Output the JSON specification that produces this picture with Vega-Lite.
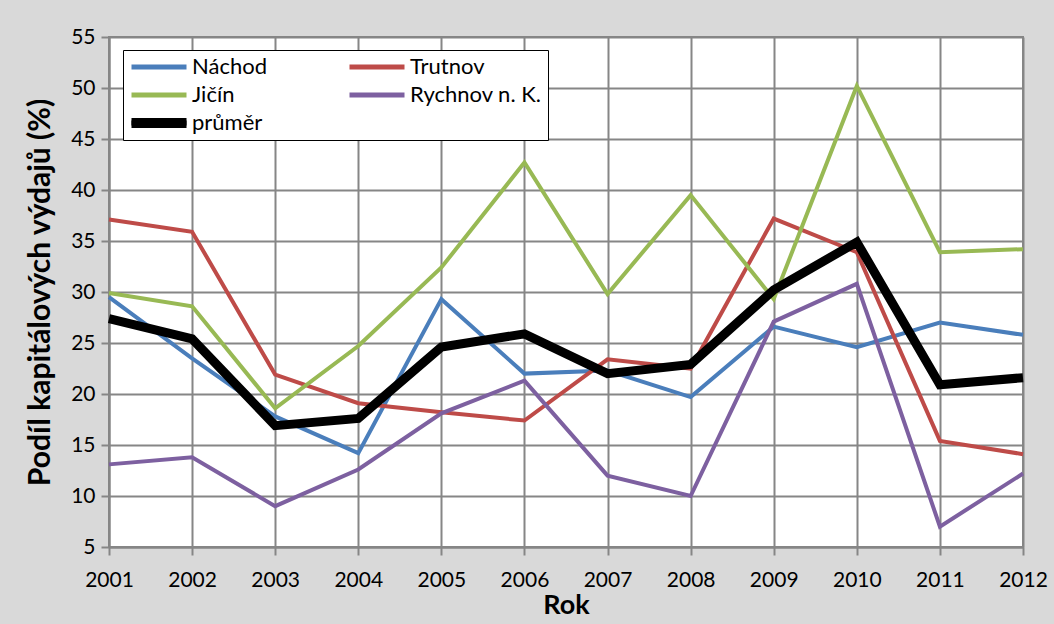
{
  "$schema": "https://vega.github.io/schema/vega-lite/v6.json",
  "width": 914,
  "height": 510,
  "autosize": "none",
  "padding": {"left": 109, "top": 37, "right": 31, "bottom": 77},
  "background": "#d9d9d9",
  "config": {
    "font": "Lato",
    "view": {"fill": "white", "stroke": "#868686", "strokeWidth": 2},
    "axis": {"gridColor": "#868686", "gridWidth": 2, "domainColor": "#868686", "domainWidth": 2, "tickColor": "#868686", "tickWidth": 2, "tickSize": 8, "labelFont": "Lato", "labelFontSize": 21, "labelColor": "black", "titleFont": "Lato", "titleFontSize": 27, "titleFontWeight": "bold", "titleColor": "black"}
  },
  "data": {
    "values": [
      {"rok": 2001, "s": "Náchod", "v": 29.5}, {"rok": 2002, "s": "Náchod", "v": 23.5}, {"rok": 2003, "s": "Náchod", "v": 17.8}, {"rok": 2004, "s": "Náchod", "v": 14.2}, {"rok": 2005, "s": "Náchod", "v": 29.3}, {"rok": 2006, "s": "Náchod", "v": 22.0}, {"rok": 2007, "s": "Náchod", "v": 22.3}, {"rok": 2008, "s": "Náchod", "v": 19.7}, {"rok": 2009, "s": "Náchod", "v": 26.6}, {"rok": 2010, "s": "Náchod", "v": 24.6}, {"rok": 2011, "s": "Náchod", "v": 27.0}, {"rok": 2012, "s": "Náchod", "v": 25.8},
      {"rok": 2001, "s": "Trutnov", "v": 37.1}, {"rok": 2002, "s": "Trutnov", "v": 35.9}, {"rok": 2003, "s": "Trutnov", "v": 21.9}, {"rok": 2004, "s": "Trutnov", "v": 19.1}, {"rok": 2005, "s": "Trutnov", "v": 18.2}, {"rok": 2006, "s": "Trutnov", "v": 17.4}, {"rok": 2007, "s": "Trutnov", "v": 23.4}, {"rok": 2008, "s": "Trutnov", "v": 22.5}, {"rok": 2009, "s": "Trutnov", "v": 37.2}, {"rok": 2010, "s": "Trutnov", "v": 33.9}, {"rok": 2011, "s": "Trutnov", "v": 15.4}, {"rok": 2012, "s": "Trutnov", "v": 14.1},
      {"rok": 2001, "s": "Jičín", "v": 29.9}, {"rok": 2002, "s": "Jičín", "v": 28.6}, {"rok": 2003, "s": "Jičín", "v": 18.6}, {"rok": 2004, "s": "Jičín", "v": 24.7}, {"rok": 2005, "s": "Jičín", "v": 32.4}, {"rok": 2006, "s": "Jičín", "v": 42.7}, {"rok": 2007, "s": "Jičín", "v": 29.8}, {"rok": 2008, "s": "Jičín", "v": 39.5}, {"rok": 2009, "s": "Jičín", "v": 29.3}, {"rok": 2010, "s": "Jičín", "v": 50.2}, {"rok": 2011, "s": "Jičín", "v": 33.9}, {"rok": 2012, "s": "Jičín", "v": 34.2},
      {"rok": 2001, "s": "Rychnov n. K.", "v": 13.1}, {"rok": 2002, "s": "Rychnov n. K.", "v": 13.8}, {"rok": 2003, "s": "Rychnov n. K.", "v": 9.0}, {"rok": 2004, "s": "Rychnov n. K.", "v": 12.6}, {"rok": 2005, "s": "Rychnov n. K.", "v": 18.1}, {"rok": 2006, "s": "Rychnov n. K.", "v": 21.3}, {"rok": 2007, "s": "Rychnov n. K.", "v": 12.0}, {"rok": 2008, "s": "Rychnov n. K.", "v": 10.0}, {"rok": 2009, "s": "Rychnov n. K.", "v": 27.1}, {"rok": 2010, "s": "Rychnov n. K.", "v": 30.8}, {"rok": 2011, "s": "Rychnov n. K.", "v": 7.0}, {"rok": 2012, "s": "Rychnov n. K.", "v": 12.2},
      {"rok": 2001, "s": "průměr", "v": 27.4}, {"rok": 2002, "s": "průměr", "v": 25.4}, {"rok": 2003, "s": "průměr", "v": 16.9}, {"rok": 2004, "s": "průměr", "v": 17.6}, {"rok": 2005, "s": "průměr", "v": 24.6}, {"rok": 2006, "s": "průměr", "v": 25.9}, {"rok": 2007, "s": "průměr", "v": 22.0}, {"rok": 2008, "s": "průměr", "v": 22.9}, {"rok": 2009, "s": "průměr", "v": 30.2}, {"rok": 2010, "s": "průměr", "v": 34.9}, {"rok": 2011, "s": "průměr", "v": 20.9}, {"rok": 2012, "s": "průměr", "v": 21.6}
    ]
  },
  "encoding": {
    "x": {"field": "rok", "type": "quantitative", "scale": {"domain": [2001, 2012], "nice": false, "zero": false}, "axis": {"values": [2001, 2002, 2003, 2004, 2005, 2006, 2007, 2008, 2009, 2010, 2011, 2012], "format": "d", "title": "Rok", "labelPadding": 14, "titlePadding": 2, "labelFlush": false}},
    "y": {"field": "v", "type": "quantitative", "scale": {"domain": [5, 55], "nice": false, "zero": false}, "axis": {"values": [5, 10, 15, 20, 25, 30, 35, 40, 45, 50, 55], "title": "Podíl kapitálových výdajů (%)", "titleFontSize": 30, "labelPadding": 6, "titlePadding": 15}},
    "color": {"field": "s", "type": "nominal", "scale": {"domain": ["Náchod", "Jičín", "průměr", "Trutnov", "Rychnov n. K."], "range": ["#4a7ebb", "#98b954", "#000000", "#be4b48", "#7d60a0"]},
      "legend": {"title": null, "orient": "none", "legendX": 14, "legendY": 13, "columns": 2, "columnPadding": 80, "rowPadding": 6, "clipHeight": 22, "symbolType": "stroke", "symbolSize": 3025, "symbolStrokeWidth": 5, "labelFontSize": 22, "labelFont": "Lato", "labelColor": "black", "labelOffset": 3, "fillColor": "white", "strokeColor": "black", "padding": 6}},
    "order": {"field": "rok"}
  },
  "layer": [
    {"transform": [{"filter": "datum.s !== 'průměr'"}], "mark": {"type": "line", "strokeWidth": 4, "strokeJoin": "miter", "strokeCap": "butt"}},
    {"transform": [{"filter": "datum.s === 'průměr'"}], "mark": {"type": "line", "strokeWidth": 9, "strokeJoin": "miter", "strokeCap": "butt"},
      "encoding": {
        "opacity": {"field": "s", "type": "nominal", "scale": {"domain": ["průměr"], "range": [1, 1]},
          "legend": {"title": null, "orient": "none", "legendX": 14, "legendY": 69, "clipHeight": 22, "symbolType": "stroke", "symbolSize": 3025, "symbolStrokeWidth": 10, "symbolStrokeColor": "black", "symbolOffset": -2.5, "labelExpr": "''", "labelFontSize": 22, "labelFont": "Lato", "labelOffset": 3, "padding": 6}}
      }}
  ]
}
